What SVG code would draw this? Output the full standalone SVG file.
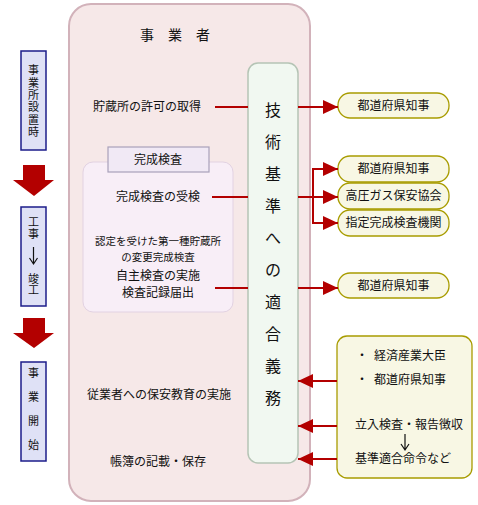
<svg xmlns="http://www.w3.org/2000/svg" width="478" height="505" viewBox="0 0 478 505">
<defs>
<style>
text{font-family:"Noto Sans CJK JP","Noto Sans",sans-serif;fill:#111;}
.t12{font-size:12px;}
.t11{font-size:10.5px;}
.vt{font-size:11px;writing-mode:vertical-rl;}
.side{fill:#dfe1f6;stroke:#1c1c8a;stroke-width:1.5;}
.auth{fill:#f8f7e4;stroke:#a89c00;stroke-width:1.3;}
.red{stroke:#b30000;stroke-width:2;fill:none;}
.redf{fill:#b30000;}
</style>
<marker id="ah" markerWidth="15" markerHeight="14" refX="15" refY="7" orient="auto" markerUnits="userSpaceOnUse">
<path d="M0,0 L15,7 L0,14 Z" fill="#b30000"/>
</marker>
</defs>
<rect width="478" height="505" fill="#fff"/>

<g id="jigyousha">
<rect x="69" y="4" width="241" height="497" rx="22" fill="#f6e8e8" stroke="#d2b2ba" stroke-width="2"/>
<text x="182" y="40" font-size="14" text-anchor="middle" letter-spacing="14">事業者</text>
</g>

<g id="side1">
<rect class="side" x="21" y="51" width="25" height="99"/>
<text class="vt" x="33.5" y="64.5" letter-spacing="1.4">事業所設置時</text>
</g>
<g id="side2">
<rect class="side" x="21" y="207" width="25" height="99"/>
<text class="vt" x="33.5" y="216.5" letter-spacing="0.5">工事</text>
<path d="M33.5,247 V263 M29.5,258 L33.5,264 L37.5,258" stroke="#111" stroke-width="1.2" fill="none"/>
<text class="vt" x="33.5" y="273" letter-spacing="0.5">竣工</text>
</g>
<g id="side3">
<rect class="side" x="21" y="362" width="25" height="99"/>
<text class="vt" x="33.5" y="367.5" letter-spacing="13">事業開始</text>
</g>
<g id="flow-arrows">
<path class="redf" d="M23,165 H45 V180 H54 L34,196 L13,180 H23 Z"/>
<path class="redf" d="M23,318 H45 V333 H54 L34,348 L13,333 H23 Z"/>
</g>

<g id="kyoka">
<text class="t12" x="147" y="111" text-anchor="middle">貯蔵所の許可の取得</text>
</g>

<g id="kansei">
<rect x="83" y="162" width="150" height="150" rx="10" fill="#f8eef7" stroke="#e2d2e2" stroke-width="1"/>
<rect x="108" y="147" width="101" height="25" fill="#f1e9f5" stroke="#a9a1b9" stroke-width="1.2"/>
<text class="t12" x="158" y="164" text-anchor="middle">完成検査</text>
<text class="t12" x="158" y="201" text-anchor="middle">完成検査の受検</text>
<text class="t11" text-anchor="middle"><tspan x="158" y="245">認定を受けた第一種貯蔵所</tspan><tspan x="158" y="260.5">の変更完成検査</tspan></text>
<text class="t12" text-anchor="middle"><tspan x="158" y="279.5">自主検査の実施</tspan><tspan x="158" y="297">検査記録届出</tspan></text>
</g>

<g id="kyouiku">
<text class="t12" x="159" y="399" text-anchor="middle">従業者への保安教育の実施</text>
</g>
<g id="choubo">
<text class="t12" x="158" y="466" text-anchor="middle">帳簿の記載・保存</text>
</g>

<g id="gimu">
<rect x="248" y="63" width="50" height="400" rx="10" fill="#f1f8f1" stroke="#b5c4b5" stroke-width="1.5"/>
<g font-size="16" text-anchor="middle">
<text x="273" y="116">技</text>
<text x="273" y="148">術</text>
<text x="273" y="180">基</text>
<text x="273" y="212">準</text>
<text x="273" y="244">へ</text>
<text x="273" y="276">の</text>
<text x="273" y="308">適</text>
<text x="273" y="340">合</text>
<text x="273" y="372">義</text>
<text x="273" y="404">務</text>
</g>
</g>

<g id="auth1">
<rect class="auth" x="338" y="93" width="111" height="25" rx="12"/>
<text class="t12" x="393.5" y="110" text-anchor="middle">都道府県知事</text>
</g>
<g id="auth2">
<rect class="auth" x="338" y="156" width="111" height="26" rx="12"/>
<text class="t12" x="393.5" y="173" text-anchor="middle">都道府県知事</text>
</g>
<g id="auth3">
<rect class="auth" x="338" y="183" width="111" height="26" rx="12"/>
<text class="t12" x="393.5" y="200" text-anchor="middle">高圧ガス保安協会</text>
</g>
<g id="auth4">
<rect class="auth" x="338" y="210" width="111" height="26" rx="12"/>
<text class="t12" x="393.5" y="227" text-anchor="middle">指定完成検査機関</text>
</g>
<g id="auth5">
<rect class="auth" x="338" y="273" width="111" height="25" rx="12"/>
<text class="t12" x="393.5" y="290" text-anchor="middle">都道府県知事</text>
</g>
<g id="kantoku">
<rect class="auth" x="337" y="336" width="135" height="142" rx="10"/>
<text class="t12" x="362" y="360" text-anchor="middle">・</text>
<text class="t12" x="374" y="360">経済産業大臣</text>
<text class="t12" x="362" y="384" text-anchor="middle">・</text>
<text class="t12" x="374" y="384">都道府県知事</text>
<text class="t12" x="355" y="429">立入検査・報告徴収</text>
<path d="M405,434 V449 M401,444 L405,450 L409,444" stroke="#111" stroke-width="1.2" fill="none"/>
<text class="t12" x="355" y="463">基準適合命令など</text>
</g>

<g id="connectors">
<path class="red" d="M215,107 H248"/>
<path class="red" d="M298,107 H338" marker-end="url(#ah)"/>
<path class="red" d="M212,197 H248"/>
<path class="red" d="M298,197 H338" marker-end="url(#ah)"/>
<path class="red" d="M338,169 H313 V223 H338"/>
<path class="red" d="M320,169 H338" marker-end="url(#ah)"/>
<path class="red" d="M320,223 H338" marker-end="url(#ah)"/>
<path class="red" d="M215,288 H248"/>
<path class="red" d="M298,288 H338" marker-end="url(#ah)"/>
<path class="red" d="M337,381 H298" marker-end="url(#ah)"/>
<path class="red" d="M337,426 H298" marker-end="url(#ah)"/>
<path class="red" d="M337,459 H298" marker-end="url(#ah)"/>
</g>
</svg>
